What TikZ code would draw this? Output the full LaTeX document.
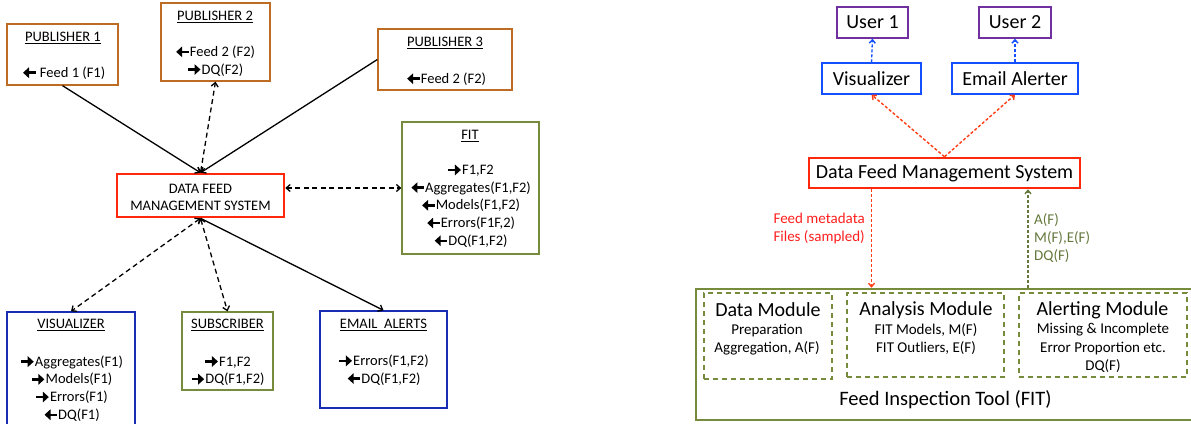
\documentclass[tikz,border=0pt]{standalone}
\usepackage{fontspec}
\setmainfont{Carlito}
\usetikzlibrary{arrows.meta}
\newcommand{\lar}{\tikz[baseline={(0pt,-4.6pt)}]\draw[line width=2.4pt,{Triangle[length=6pt,width=10.5pt]}-] (0pt,0pt) -- (12.5pt,0pt);}
\newcommand{\rar}{\tikz[baseline={(0pt,-4.6pt)}]\draw[line width=2.4pt,-{Triangle[length=6pt,width=10.5pt]}] (0pt,0pt) -- (12.5pt,0pt);}
\definecolor{pubc}{RGB}{190,108,36}
\definecolor{redc}{RGB}{255,40,10}
\definecolor{olivec}{RGB}{118,140,60}
\definecolor{dbluec}{RGB}{25,45,180}
\definecolor{bbluec}{RGB}{20,80,255}
\definecolor{purpc}{RGB}{112,48,160}
\definecolor{rarrowc}{RGB}{255,60,20}
\definecolor{garrowc}{RGB}{100,120,60}
\definecolor{redtxt}{RGB}{255,30,30}
\begin{document}
\begin{tikzpicture}[x=1pt,y=-1pt,
  box/.style={draw, rectangle, inner sep=0pt, line width=1.3pt},
  ltxt/.style={font=\fontsize{14.5}{17.7}\selectfont, align=center, inner sep=0pt},
  bigtxt/.style={font=\fontsize{20}{23}\selectfont, align=center, inner sep=0pt},
  smtxt/.style={font=\fontsize{15}{18.4}\selectfont, align=center, inner sep=0pt},
  solidarr/.style={line width=1.3pt, -{Straight Barb[length=4pt,width=7pt]}},
  dasharr/.style={line width=1.3pt, dash pattern=on 5pt off 3.5pt, {Straight Barb[length=4pt,width=7pt]}-{Straight Barb[length=4pt,width=7pt]}},
  bdash/.style={draw=bbluec, line width=1.4pt, dash pattern=on 3pt off 2pt, -{Straight Barb[length=3.5pt,width=6pt]}},
  rdash/.style={draw=rarrowc, line width=1.4pt, dash pattern=on 3pt off 2pt, -{Straight Barb[length=3.5pt,width=6pt]}},
  gdash/.style={draw=garrowc, line width=1.4pt, dash pattern=on 3pt off 2pt, -{Straight Barb[length=3.5pt,width=6pt]}},
  modbox/.style={draw=olivec, rectangle, inner sep=0pt, line width=1.5pt, dash pattern=on 5pt off 4pt}
]
\useasboundingbox (0,0) rectangle (1191,423);

% ---------------- left diagram ----------------
\node[box, draw=pubc, minimum width=111pt, minimum height=61pt] (p1) at (62.5,54.5) {};
\node[ltxt] (p1t) at (63,38) {\underline{PUBLISHER 1}};
\node[ltxt] (p1a) at (63.5,73) {\lar\ Feed 1 (F1)};

\node[box, draw=pubc, minimum width=109pt, minimum height=78pt] (p2) at (215.5,42) {};
\node[ltxt] (p2t) at (215,17) {\underline{PUBLISHER 2}};
\node[ltxt] (p2a) at (215,61) {\lar Feed 2 (F2)\\\rar DQ(F2)};

\node[box, draw=pubc, minimum width=134pt, minimum height=61pt] (p3) at (445,59.5) {};
\node[ltxt] (p3t) at (445,43) {\underline{PUBLISHER 3}};
\node[ltxt] (p3a) at (446,79) {\lar Feed 2 (F2)};

\node[box, draw=olivec, minimum width=137pt, minimum height=132pt] (fit) at (470.5,188) {};
\node[ltxt] (fitt) at (470,136) {\underline{FIT}};
\node[ltxt] (fita) at (470.5,206) {\rar F1,F2\\\lar Aggregates(F1,F2)\\\lar Models(F1,F2)\\\lar Errors(F1F,2)\\\lar DQ(F1,F2)};

\node[box, draw=redc, line width=2.5pt, minimum width=167pt, minimum height=43pt] (dfms) at (200.5,195.5) {};
\node[ltxt] (dfmst) at (200.5,197.5) {DATA FEED\\MANAGEMENT SYSTEM};

\node[box, draw=dbluec, minimum width=128pt, minimum height=118pt] (vis) at (71,371) {};
\node[ltxt] (vist) at (71,325) {\underline{VISUALIZER}};
\node[ltxt] (visa) at (71.5,388.5) {\rar Aggregates(F1)\\\rar Models(F1)\\\rar Errors(F1)\\\lar DQ(F1)};

\node[box, draw=olivec, minimum width=91pt, minimum height=78pt] (sub) at (227.5,351) {};
\node[ltxt] (subt) at (227.5,325) {\underline{SUBSCRIBER}};
\node[ltxt] (suba) at (227.5,371) {\rar F1,F2\\\rar DQ(F1,F2)};

\node[box, draw=dbluec, minimum width=127pt, minimum height=97pt] (email) at (383.5,359.5) {};
\node[ltxt] (emailt) at (383.5,325) {\underline{EMAIL\ \ ALERTS}};
\node[ltxt] (emaila) at (383.5,370) {\rar Errors(F1,F2)\\\lar DQ(F1,F2)};

\draw[solidarr] (p1.south) -- (dfms.north);
\draw[solidarr] (p3.west) -- (dfms.north);
\draw[dasharr] (dfms.north) -- (p2.south);
\draw[dasharr] ([yshift=7.5pt]dfms.east) -- ([yshift=7.5pt]dfms.east -| fit.west);
\draw[dasharr] (dfms.south) -- (vis.north);
\draw[dasharr] (dfms.south) -- (sub.north);
\draw[solidarr] (dfms.south) -- (email.north);

% ---------------- right diagram ----------------
\node[box, draw=purpc, minimum width=71pt, minimum height=31pt, bigtxt] (u1) at (872.5,22.5) {User 1};
\node[box, draw=purpc, minimum width=72pt, minimum height=31pt, bigtxt] (u2) at (1015,22.5) {User 2};
\node[box, draw=bbluec, minimum width=99pt, minimum height=31pt, bigtxt] (rvis) at (871.5,78.5) {Visualizer};
\node[box, draw=bbluec, minimum width=126pt, minimum height=31pt, bigtxt] (ralert) at (1015,78.5) {Email Alerter};
\node[box, draw=redc, line width=2.5pt, minimum width=271pt, minimum height=30pt, bigtxt] (rdfms) at (944.5,173) {Data Feed Management System};

\node[box, draw=olivec, line width=2.5pt, minimum width=504pt, minimum height=131pt] (rfit) at (948,354.5) {};
\node[modbox, minimum width=128pt, minimum height=86pt] (dm) at (768,336) {};
\node[modbox, minimum width=157pt, minimum height=84pt] (am) at (925.5,335) {};
\node[modbox, minimum width=168pt, minimum height=84pt] (alm) at (1103,335) {};

\node[bigtxt] (dmt) at (768,310) {Data Module};
\node[smtxt] (dma) at (767,339.5) {Preparation\\Aggregation, A(F)};
\node[bigtxt] (amt) at (926,310) {Analysis Module};
\node[smtxt] (ama) at (926,339) {FIT Models, M(F)\\FIT Outliers, E(F)};
\node[bigtxt] (almt) at (1102.5,310) {Alerting Module};
\node[smtxt] (alma) at (1103,348) {Missing \& Incomplete\\Error Proportion etc.\\DQ(F)};
\node[bigtxt, font=\fontsize{20.5}{24}\selectfont] (rfitt) at (945.5,400) {Feed Inspection Tool (FIT)};

\draw[bdash] (rvis.north) -- (u1.south);
\draw[bdash] (ralert.north) -- (u2.south);
\draw[rdash] (rdfms.north) -- (rvis.south);
\draw[rdash] (rdfms.north) -- (ralert.south);
\draw[rdash] (rvis.south |- rdfms.south) -- (rvis.south |- rfit.north);
\coordinate (gx) at (1028,300);
\draw[gdash] (gx |- rfit.north) -- (gx |- rdfms.south);

\node[smtxt, text=redtxt, anchor=east, align=right] (fm) at (865,228.5) {Feed metadata\\Files (sampled)};
\node[smtxt, text=garrowc, anchor=west, align=left] (gl) at (1034,238) {A(F)\\M(F),E(F)\\DQ(F)};
\end{tikzpicture}
\end{document}
